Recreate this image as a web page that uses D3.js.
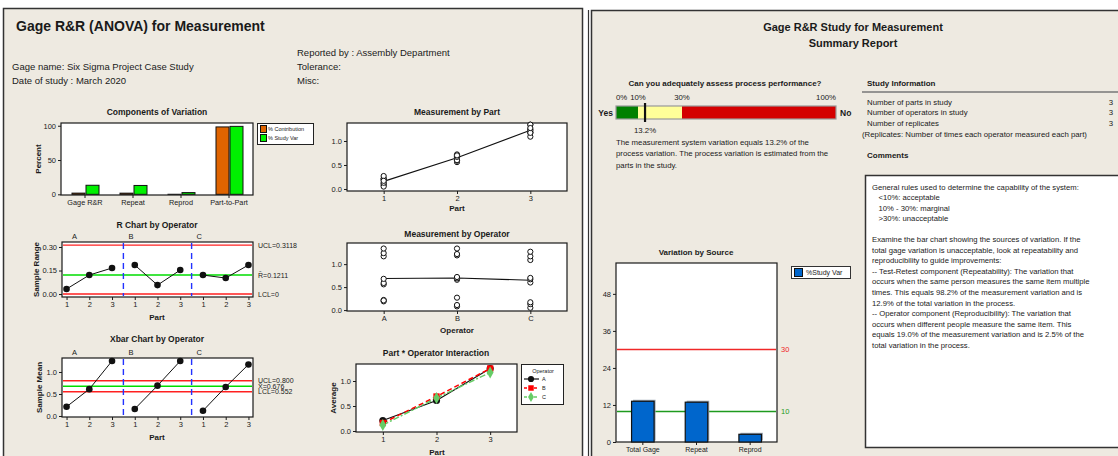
<!DOCTYPE html>
<html><head><meta charset="utf-8">
<script src="https://cdn.jsdelivr.net/npm/d3@7"></script>
<style>
body{margin:0;background:#fff;}
svg{display:block;}
</style></head><body><svg id="c" width="1118" height="456"></svg>
<script>
// ---------------- DATA ----------------
const compCategories = ["Gage R&R", "Repeat", "Reprod", "Part-to-Part"];
const pctContribution = [1.74, 1.68, 0.06, 98.26];
const pctStudyVar = [13.2, 12.9, 2.5, 99.1];

const operators = ["A", "B", "C"];
const parts = [1, 2, 3];
// R chart (by operator, parts 1..3 for each)
const sampleRange = [0.032, 0.121, 0.166, 0.185, 0.057, 0.153, 0.121, 0.102, 0.185];
const rLimitValues = [0.3118, 0.1211, 0];
const rLimitLabels = ["UCL=0.3118", "R\u0304=0.1211", "LCL=0"];
// Xbar chart
const sampleMean = [0.21, 0.61, 1.25, 0.16, 0.69, 1.25, 0.12, 0.66, 1.17];
const xLimitValues = [0.800, 0.676, 0.552];
const xLimitLabels = ["UCL=0.800", "X\u0304=0.676", "LCL=0.552"];
// individual measurements [part][replicate] per operator
const measA = [[0.19, 0.22, 0.21], [0.56, 0.59, 0.68], [1.17, 1.24, 1.34]];
const measB = [[0.08, 0.11, 0.27], [0.66, 0.69, 0.72], [1.19, 1.22, 1.34]];
const measC = [[0.05, 0.13, 0.17], [0.60, 0.67, 0.70], [1.09, 1.17, 1.27]];

// Summary report
const perfThresholds = [0, 10, 30, 100];
const perfValue = 13.2;
const srcCategories = ["Total Gage", "Repeat", "Reprod"];
const srcStudyVar = [13.2, 12.9, 2.5];
const srcRefLines = [30, 10];
const srcTicks = [0, 12, 24, 36, 48];

const studyInfoLabels = ["Number of parts in study", "Number of operators in study", "Number of replicates"];
const studyInfoValues = ["3", "3", "3"];
const commentLines = [
  "General rules used to determine the capability of the system:",
  "   <10%: acceptable",
  "   10% - 30%: marginal",
  "   >30%: unacceptable",
  "",
  "Examine the bar chart showing the sources of variation. If the",
  "total gage variation is unacceptable, look at repeatability and",
  "reproducibility to guide improvements:",
  "-- Test-Retest component (Repeatability): The variation that",
  "occurs when the same person measures the same item multiple",
  "times. This equals 98.2% of the measurement variation and is",
  "12.9% of the total variation in the process.",
  "-- Operator component (Reproducibility): The variation that",
  "occurs when different people measure the same item. This",
  "equals 19.0% of the measurement variation and is 2.5% of the",
  "total variation in the process."
];

// ---------------- DRAW ----------------
const FONT = "'Liberation Sans', Arial, sans-serif";
const BG = "#EEEAE1";
const svg = d3.select("#c").attr("font-family", FONT);

function txt(x, y, s, o = {}) {
  const t = svg.append("text").attr("x", x).attr("y", y).text(s)
    .attr("font-size", o.size || 8).attr("fill", o.fill || "#1a1a1a")
    .attr("dominant-baseline", "central").attr("font-family", FONT);
  if (o.bold) t.attr("font-weight", "bold");
  if (o.anchor) t.attr("text-anchor", o.anchor);
  if (o.rotate) t.attr("transform", `rotate(-90,${x},${y})`);
  if (o.space) t.attr("xml:space", "preserve").style("white-space", "pre");
  return t;
}
function frame(x0, y0, x1, y1) {
  svg.append("rect").attr("x", x0).attr("y", y0).attr("width", x1 - x0).attr("height", y1 - y0)
    .attr("fill", "#fff").attr("stroke", "#1a1a1a").attr("stroke-width", 1.2);
}
function styleAxis(g, size) {
  g.select(".domain").remove();
  g.attr("font-family", null).attr("font-size", null);
  g.selectAll("text").attr("font-size", size || 7.5).attr("font-family", FONT).attr("fill", "#1a1a1a");
  g.selectAll("line").attr("stroke", "#1a1a1a");
}
function axisLeft(scale, vals, fmt, x, size) {
  const g = svg.append("g").attr("transform", `translate(${x},0)`)
    .call(d3.axisLeft(scale).tickValues(vals).tickFormat(fmt).tickSize(3).tickPadding(2));
  styleAxis(g, size);
  return g;
}
function axisBottom(scale, vals, fmt, y, size) {
  const g = svg.append("g").attr("transform", `translate(0,${y})`)
    .call(d3.axisBottom(scale).tickValues(vals).tickFormat(fmt).tickSize(3).tickPadding(2));
  styleAxis(g, size);
  return g;
}
function hline(x0, x1, y, color, w, dash) {
  const l = svg.append("line").attr("x1", x0).attr("x2", x1).attr("y1", y).attr("y2", y)
    .attr("stroke", color).attr("stroke-width", w || 1);
  if (dash) l.attr("stroke-dasharray", dash);
  return l;
}
function vline(x, y0, y1, color, w, dash) {
  const l = svg.append("line").attr("x1", x).attr("x2", x).attr("y1", y0).attr("y2", y1)
    .attr("stroke", color).attr("stroke-width", w || 1);
  if (dash) l.attr("stroke-dasharray", dash);
  return l;
}

// Panels
svg.append("rect").attr("x", 3.5).attr("y", 8.5).attr("width", 579).attr("height", 470)
  .attr("fill", BG).attr("stroke", "#333").attr("stroke-width", 1.5);
svg.append("rect").attr("x", 591.5).attr("y", 10.5).attr("width", 540).attr("height", 470)
  .attr("fill", BG).attr("stroke", "#333").attr("stroke-width", 1.5);
vline(588.5, 10, 456, "#333", 1.2);

// Header left
txt(16, 26, "Gage R&R (ANOVA) for Measurement", { size: 14, bold: true });
txt(12, 66, "Gage name: Six Sigma Project Case Study", { size: 9.5 });
txt(12, 80, "Date of study : March 2020", { size: 9.5 });
txt(297, 52, "Reported by : Assembly Department", { size: 9.5 });
txt(297, 66, "Tolerance:", { size: 9.5 });
txt(297, 80, "Misc:", { size: 9.5 });

// ---------- Components of Variation ----------
{
  const x = d3.scaleBand().domain(compCategories).range([61, 253]);
  const y = d3.scaleLinear().domain([-1, 104]).range([195, 123]);
  txt(157, 112, "Components of Variation", { size: 8.5, bold: true, anchor: "middle" });
  frame(61, 123, 253, 195);
  const cx = c => x(c) + x.bandwidth() / 2;
  svg.append("g").selectAll("rect").data(compCategories).join("rect")
    .attr("x", c => cx(c) - 13).attr("width", 13)
    .attr("y", (c, i) => y(pctContribution[i])).attr("height", (c, i) => y(0) - y(pctContribution[i]))
    .attr("fill", "#E06400").attr("stroke", "#111").attr("stroke-width", 1);
  svg.append("g").selectAll("rect").data(compCategories).join("rect")
    .attr("x", c => cx(c) + 1).attr("width", 13)
    .attr("y", (c, i) => y(pctStudyVar[i])).attr("height", (c, i) => y(0) - y(pctStudyVar[i]))
    .attr("fill", "#00F000").attr("stroke", "#111").attr("stroke-width", 1);
  axisLeft(y, [0, 50, 100], d3.format("d"), 61, 7.5);
  axisBottom(x, compCategories, d => d, 195, 7.3);
  txt(38, 159, "Percent", { size: 8, bold: true, anchor: "middle", rotate: true });
  // legend
  svg.append("rect").attr("x", 257.5).attr("y", 123.5).attr("width", 56).attr("height", 21)
    .attr("fill", "#fff").attr("stroke", "#222");
  [["% Contribution", "#E06400"], ["% Study Var", "#00F000"]].forEach((d, i) => {
    svg.append("rect").attr("x", 260.5).attr("y", 125.5 + i * 9).attr("width", 6).attr("height", 7)
      .attr("fill", d[1]).attr("stroke", "#111");
    txt(268, 129 + i * 9, d[0], { size: 5.5 });
  });
}

// ---------- R chart & Xbar chart ----------
function controlChart(cfg) {
  const x = d3.scaleLinear().domain([0.8, 9.2]).range([62, 253]);
  const y = d3.scaleLinear().domain(cfg.yDomain).range([cfg.y1, cfg.y0]);
  txt(157, cfg.titleY, cfg.title, { size: 8.5, bold: true, anchor: "middle" });
  frame(62, cfg.y0, 253, cfg.y1);
  operators.forEach((op, i) => {
    txt(Math.max(72, x(3 * i + 0.5) + 5), cfg.y0 - 6, op, { size: 7.5 });
  });
  cfg.limits.forEach((v, i) => {
    hline(63, 252, y(v), i === 1 ? "#00DD00" : "#FF2020", 1.4);
    txt(258, y(v), cfg.limitLabels[i], { size: 7 });
  });
  [3.5, 6.5].forEach(v => vline(x(v), cfg.y0 + 1, cfg.y1 - 1, "#2233FF", 1.4, "6,4"));
  operators.forEach((op, i) => {
    const pts = parts.map((p, j) => [x(3 * i + j + 1), y(cfg.values[3 * i + j])]);
    svg.append("path").attr("d", d3.line()(pts)).attr("fill", "none").attr("stroke", "#111").attr("stroke-width", 1);
  });
  svg.append("g").selectAll("circle").data(cfg.values).join("circle")
    .attr("cx", (d, i) => x(i + 1)).attr("cy", d => y(d)).attr("r", 3.3).attr("fill", "#111");
  axisLeft(y, cfg.ticks, d3.format(cfg.fmt), 62, 7.5);
  axisBottom(x, d3.range(1, 10), i => ((i - 1) % 3) + 1, cfg.y1, 7.5);
  txt(157, cfg.y1 + 20, "Part", { size: 8, bold: true, anchor: "middle" });
  txt(cfg.ylabX, (cfg.y0 + cfg.y1) / 2, cfg.ylab, { size: 8, bold: true, anchor: "middle", rotate: true });
}
controlChart({
  title: "R Chart by Operator", titleY: 225, y0: 242, y1: 297, yDomain: [-0.019, 0.332],
  values: sampleRange, limits: rLimitValues, limitLabels: rLimitLabels, ticks: [0, 0.15, 0.30], fmt: ".2f",
  ylab: "Sample Range", ylabX: 36
});
controlChart({
  title: "Xbar Chart by Operator", titleY: 339, y0: 358, y1: 417, yDomain: [-0.023, 1.318],
  values: sampleMean, limits: xLimitValues, limitLabels: xLimitLabels, ticks: [0, 0.5, 1.0], fmt: ".1f",
  ylab: "Sample Mean", ylabX: 39
});

// ---------- Measurement by Part ----------
const allMeas = [measA, measB, measC];
{
  const x = d3.scaleLinear().domain([0.5, 3.5]).range([347, 567]);
  const y = d3.scaleLinear().domain([-0.042, 1.375]).range([191, 123]);
  txt(457, 112, "Measurement by Part", { size: 8.5, bold: true, anchor: "middle" });
  frame(347, 123, 567, 191);
  const pts = [];
  parts.forEach((p, pi) => allMeas.forEach(m => m[pi].forEach(v => pts.push([p, v]))));
  const means = parts.map((p, pi) => d3.mean(allMeas.flatMap(m => m[pi])));
  svg.append("path").attr("d", d3.line()(parts.map((p, i) => [x(p), y(means[i])])))
    .attr("fill", "none").attr("stroke", "#111").attr("stroke-width", 1.1);
  svg.append("g").selectAll("circle").data(pts).join("circle")
    .attr("cx", d => x(d[0])).attr("cy", d => y(d[1])).attr("r", 2.6)
    .attr("fill", "#fff").attr("stroke", "#111").attr("stroke-width", 1);
  axisLeft(y, [0, 0.5, 1.0], d3.format(".1f"), 347, 7.5);
  axisBottom(x, parts, d3.format("d"), 191, 7.5);
  txt(457, 208, "Part", { size: 8, bold: true, anchor: "middle" });
}

// ---------- Measurement by Operator ----------
{
  const x = d3.scalePoint().domain(operators).range([347, 567]).padding(0.5);
  const y = d3.scaleLinear().domain([-0.02, 1.46]).range([311, 243]);
  txt(457, 234, "Measurement by Operator", { size: 8.5, bold: true, anchor: "middle" });
  frame(347, 243, 567, 311);
  const pts = [];
  operators.forEach((op, oi) => allMeas[oi].forEach(r => r.forEach(v => pts.push([op, v]))));
  const means = operators.map((op, oi) => d3.mean(allMeas[oi].flat()));
  svg.append("path").attr("d", d3.line()(operators.map((o, i) => [x(o), y(means[i])])))
    .attr("fill", "none").attr("stroke", "#111").attr("stroke-width", 1.1);
  svg.append("g").selectAll("circle").data(pts).join("circle")
    .attr("cx", d => x(d[0])).attr("cy", d => y(d[1])).attr("r", 2.6)
    .attr("fill", "#fff").attr("stroke", "#111").attr("stroke-width", 1);
  axisLeft(y, [0, 0.5, 1.0], d3.format(".1f"), 347, 7.5);
  axisBottom(x, operators, d => d, 311, 7.5);
  txt(457, 330, "Operator", { size: 8, bold: true, anchor: "middle" });
}

// ---------- Part * Operator Interaction ----------
{
  const x = d3.scaleLinear().domain([0.5, 3.5]).range([356, 517]);
  const y = d3.scaleLinear().domain([-0.02, 1.34]).range([432, 364]);
  txt(436, 353, "Part * Operator Interaction", { size: 8.5, bold: true, anchor: "middle" });
  frame(356, 364, 517, 432);
  const styles = [
    { color: "#111", dash: null, sym: d3.symbolCircle, w: 1.2 },
    { color: "#FF0000", dash: "5,3", sym: d3.symbolSquare, w: 1.5 },
    { color: "#66CC66", dash: "6,2,2,2", sym: d3.symbolDiamond, w: 1.5 }
  ];
  operators.forEach((op, oi) => {
    const st = styles[oi];
    const vals = parts.map((p, j) => sampleMean[3 * oi + j]);
    const l = svg.append("path").attr("d", d3.line()(parts.map((p, j) => [x(p), y(vals[j])])))
      .attr("fill", "none").attr("stroke", st.color).attr("stroke-width", st.w);
    if (st.dash) l.attr("stroke-dasharray", st.dash);
  });
  operators.forEach((op, oi) => {
    const st = styles[oi];
    parts.forEach((p, j) => {
      svg.append("path").attr("d", d3.symbol(st.sym, 40)())
        .attr("transform", `translate(${x(p)},${y(sampleMean[3 * oi + j])})`).attr("fill", st.color);
    });
  });
  axisLeft(y, [0, 0.5, 1.0], d3.format(".1f"), 356, 7.5);
  axisBottom(x, parts, d3.format("d"), 432, 7.5);
  txt(437, 452, "Part", { size: 8, bold: true, anchor: "middle" });
  txt(333, 398, "Average", { size: 8, bold: true, anchor: "middle", rotate: true });
  // legend
  svg.append("rect").attr("x", 521.5).attr("y", 364.5).attr("width", 42).attr("height", 40)
    .attr("fill", "#fff").attr("stroke", "#222");
  txt(543, 371, "Operator", { size: 5.5, anchor: "middle" });
  operators.forEach((op, oi) => {
    const st = styles[oi], yy = 379 + oi * 9;
    const l = hline(524, 539, yy, st.color, st.w);
    if (st.dash) l.attr("stroke-dasharray", "3,2");
    svg.append("path").attr("d", d3.symbol(st.sym, 30)()).attr("transform", `translate(531,${yy})`).attr("fill", st.color);
    txt(542, yy, op, { size: 5.5 });
  });
}

// ---------- Right panel ----------
txt(853, 27, "Gage R&R Study for Measurement", { size: 11, bold: true, anchor: "middle" });
txt(853, 43, "Summary Report", { size: 11, bold: true, anchor: "middle" });

{
  const x = d3.scaleLinear().domain([0, 100]).range([616, 836]);
  txt(725, 83, "Can you adequately assess process performance?", { size: 8, bold: true, anchor: "middle" });
  const cols = ["#008000", "#FFFF99", "#D40000"];
  for (let i = 0; i < 3; i++) {
    svg.append("rect").attr("x", x(perfThresholds[i])).attr("y", 106)
      .attr("width", x(perfThresholds[i + 1]) - x(perfThresholds[i])).attr("height", 13)
      .attr("fill", cols[i]);
  }
  svg.append("rect").attr("x", x(0)).attr("y", 106).attr("width", x(100) - x(0)).attr("height", 13)
    .attr("fill", "none").attr("stroke", "#999").attr("stroke-width", 1.2);
  perfThresholds.forEach((t, i) => {
    txt(x(t), 97, t + "%", { size: 7.8, anchor: i === 0 ? "start" : (i === 3 ? "end" : "middle") });
  });
  vline(x(perfValue), 103, 122, "#111", 2.2);
  txt(x(perfValue), 130, perfValue.toFixed(1) + "%", { size: 7.8, anchor: "middle" });
  txt(613, 113, "Yes", { size: 8.5, bold: true, anchor: "end" });
  txt(840, 113, "No", { size: 8.5, bold: true });
  ["The measurement system variation equals 13.2% of the",
   "process variation. The process variation is estimated from the",
   "parts in the study."].forEach((s, i) => txt(616, 142 + i * 11.5, s, { size: 7.8 }));
}

// Study information
txt(867, 83, "Study Information", { size: 8, bold: true });
hline(862, 1118, 92, "#777", 1.5);
studyInfoLabels.forEach((s, i) => {
  txt(867, 102 + i * 10.5, s, { size: 7.8 });
  txt(1113, 102 + i * 10.5, studyInfoValues[i], { size: 7.8, anchor: "end" });
});
txt(862, 134, "(Replicates: Number of times each operator measured each part)", { size: 7.8 });
txt(867, 155, "Comments", { size: 8, bold: true });
svg.append("rect").attr("x", 865.5).attr("y", 175.5).attr("width", 270).attr("height", 272)
  .attr("fill", "#fff").attr("stroke", "#333").attr("stroke-width", 1.5);
commentLines.forEach((s, i) => {
  if (s) txt(872, 187 + i * 10.55, s, { size: 7.7, space: true });
});

// ---------- Variation by Source ----------
{
  const x = d3.scaleBand().domain(srcCategories).range([616, 777]).paddingInner(0.58).paddingOuter(0.29);
  const y = d3.scaleLinear().domain([0, 58]).range([442, 263]);
  txt(696, 252, "Variation by Source", { size: 8, bold: true, anchor: "middle" });
  frame(616, 263, 777, 442);
  srcRefLines.forEach((v, i) => {
    const c = i === 0 ? "#F02828" : "#1E9A1E";
    hline(617, 776, Math.round(y(v)) + 0.5, c, 1.3);
    txt(781, y(v), String(v), { size: 7.5, fill: c });
  });
  svg.append("g").selectAll("rect").data(srcCategories).join("rect")
    .attr("x", d => x(d) + 1.5).attr("width", x.bandwidth())
    .attr("y", (d, i) => y(srcStudyVar[i]) - 1.5).attr("height", (d, i) => y(0) - y(srcStudyVar[i]))
    .attr("fill", "#9AA6B4");
  svg.append("g").selectAll("rect.b").data(srcCategories).join("rect")
    .attr("x", d => x(d)).attr("width", x.bandwidth())
    .attr("y", (d, i) => y(srcStudyVar[i])).attr("height", (d, i) => y(0) - y(srcStudyVar[i]))
    .attr("fill", "#0066CC").attr("stroke", "#111").attr("stroke-width", 1.2);
  axisLeft(y, srcTicks, d3.format("d"), 616, 7.5);
  axisBottom(x, srcCategories, d => d, 442, 7);
  svg.append("rect").attr("x", 791.5).attr("y", 266.5).attr("width", 59).attr("height", 12)
    .attr("fill", "#fff").attr("stroke", "#333");
  svg.append("rect").attr("x", 794.5).attr("y", 268.5).attr("width", 8).attr("height", 8)
    .attr("fill", "#0066CC").attr("stroke", "#111");
  txt(806, 272.5, "%Study Var", { size: 7 });
}
</script></body></html>
